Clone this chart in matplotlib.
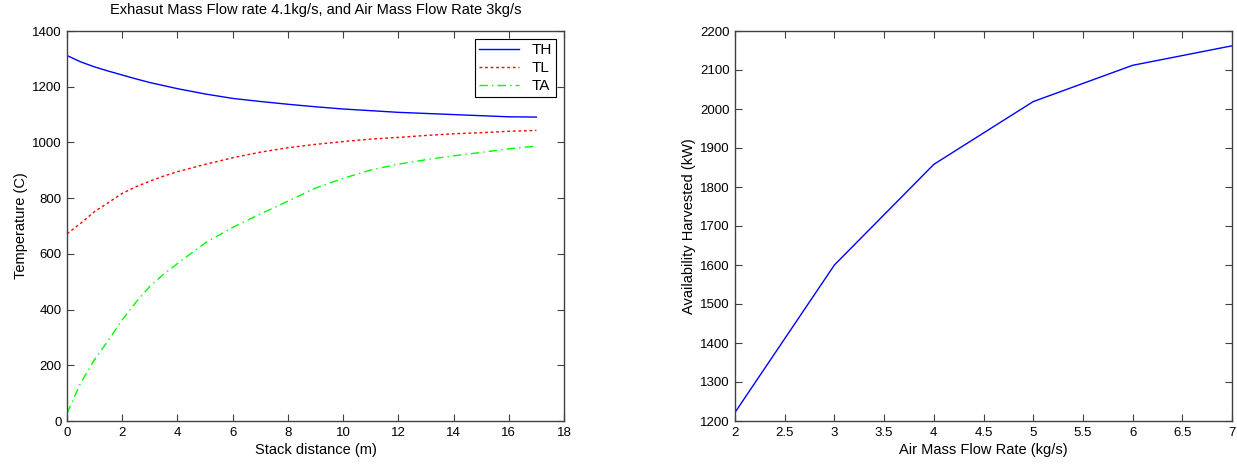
import matplotlib
matplotlib.use("Agg")
import matplotlib.pyplot as plt

# left panel: temperatures along the stack
stack_x = [0, 0.5, 1, 1.5, 2, 2.5, 3, 3.5, 4, 5, 6, 7, 8, 9, 10, 11, 12, 13, 14, 15, 16, 17]
th = [1312, 1289, 1271, 1256, 1242, 1228, 1215, 1204, 1193, 1174, 1158, 1147, 1137, 1128,
      1120, 1114, 1108, 1104, 1100, 1096, 1092, 1091]
tl = [672, 710, 752, 784, 817, 841, 861, 879, 895, 921, 945, 965, 981, 993, 1003,
      1012, 1018, 1025, 1031, 1035, 1040, 1043]
ta = [28, 137, 221, 290, 363, 427, 483, 527, 565, 639, 695, 743, 789, 836, 871,
      901, 922, 938, 952, 964, 977, 987]

# right panel: availability harvested vs air flow
air_flow = [2, 3, 4, 5, 6, 7]
avail = [1222, 1600, 1858, 2019, 2112, 2162]

plt.rcParams['font.family'] = ['Liberation Sans', 'DejaVu Sans']
plt.rcParams['font.size'] = 10.5

fig = plt.figure(figsize=(12.37, 4.66), dpi=100)
ax1 = fig.add_axes([67 / 1237, 45 / 466, 497 / 1237, 390 / 466])
ax2 = fig.add_axes([735 / 1237, 45 / 466, 497 / 1237, 390 / 466])

ax1.plot(stack_x, th, color='#0000ff', linestyle='-', lw=1, label='TH')
ax1.plot(stack_x, tl, color='#ff0000', linestyle=(0, (2, 2)), lw=1, label='TL')
ax1.plot(stack_x, ta, color='#00ff00', linestyle=(0, (6, 3, 1, 3)), lw=1, label='TA')
ax1.set_xlim(0, 18)
ax1.set_ylim(0, 1400)
ax1.set_xticks(range(0, 19, 2))
ax1.set_yticks(range(0, 1401, 200))
ax1.set_xlabel('Stack distance (m)', labelpad=3)
ax1.set_ylabel('Temperature (C)', labelpad=3)
ax1.set_title('Exhasut Mass Flow rate 4.1kg/s, and Air Mass Flow Rate 3kg/s',
              fontsize=10.5, pad=12)
leg = ax1.legend(loc='upper right', fancybox=False, framealpha=1, edgecolor='black',
                 handlelength=2.6, borderaxespad=0.5, labelspacing=0.25, fontsize=11,
                 borderpad=0.3)
leg.get_frame().set_linewidth(0.8)

ax2.plot(air_flow, avail, color='#0000ff', lw=1)
ax2.set_xlim(2, 7)
ax2.set_ylim(1200, 2200)
ax2.set_xticks([2, 2.5, 3, 3.5, 4, 4.5, 5, 5.5, 6, 6.5, 7])
ax2.set_xticklabels(['2', '2.5', '3', '3.5', '4', '4.5', '5', '5.5', '6', '6.5', '7'])
ax2.set_yticks(range(1200, 2201, 100))
ax2.set_xlabel('Air Mass Flow Rate (kg/s)', labelpad=3)
ax2.set_ylabel('Availability Harvested (kW)', labelpad=3)

for ax in (ax1, ax2):
    ax.tick_params(direction='in', length=5, width=0.8, top=True, right=True,
                   colors='#404040', labelcolor='black', labelsize=9.5, pad=4)
    for s in ax.spines.values():
        s.set_color('#404040')
        s.set_linewidth(1)

fig.savefig('out.png', dpi=100)
